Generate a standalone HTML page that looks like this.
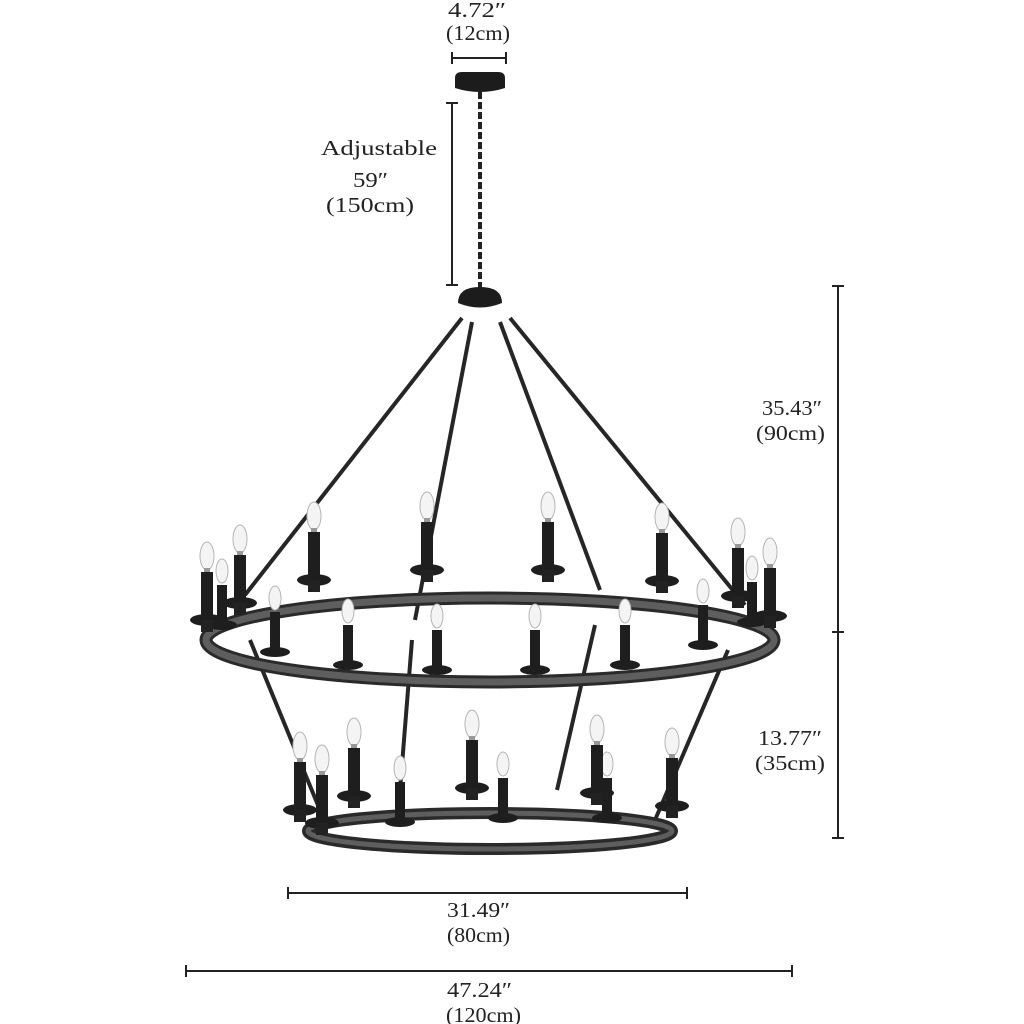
<!DOCTYPE html>
<html><head><meta charset="utf-8"><style>
html,body{margin:0;padding:0;background:#fff}
svg{display:block}
text{font-family:"Liberation Serif",serif;fill:#222;font-size:21px}
</style></head><body>
<svg width="1024" height="1024" viewBox="0 0 1024 1024">
<defs>
<g id="c">
<ellipse cx="0" cy="-16" rx="7" ry="14" fill="#f4f4f4" stroke="#b5b5b5" stroke-width="1"/>
<rect x="-3" y="-4" width="6" height="5" fill="#999"/>
<rect x="-6" y="0" width="12" height="46" fill="#1e1e1e"/>
<ellipse cx="0" cy="48" rx="17" ry="6" fill="#1e1e1e"/>
<rect x="-6" y="48" width="12" height="12" fill="#222"/>
</g>
<g id="s">
<ellipse cx="0" cy="-14" rx="6" ry="12" fill="#f4f4f4" stroke="#b5b5b5" stroke-width="1"/>
<rect x="-5" y="0" width="10" height="38" fill="#1e1e1e"/>
<ellipse cx="0" cy="40" rx="15" ry="5" fill="#1e1e1e"/>
</g>
</defs>

<text x="448" y="17" textLength="58" lengthAdjust="spacingAndGlyphs">4.72″</text>
<text x="446" y="40" textLength="64" lengthAdjust="spacingAndGlyphs">(12cm)</text>
<line x1="452" y1="58" x2="506" y2="58" stroke="#222" stroke-width="2"/>
<line x1="452" y1="52" x2="452" y2="64" stroke="#222" stroke-width="2"/>
<line x1="506" y1="52" x2="506" y2="64" stroke="#222" stroke-width="2"/>
<line x1="452" y1="103" x2="452" y2="285" stroke="#222" stroke-width="2"/>
<line x1="446" y1="103" x2="458" y2="103" stroke="#222" stroke-width="2"/>
<line x1="446" y1="285" x2="458" y2="285" stroke="#222" stroke-width="2"/>
<text x="321" y="155" font-size="23" textLength="116" lengthAdjust="spacingAndGlyphs">Adjustable</text>
<text x="353" y="187" font-size="23" textLength="35" lengthAdjust="spacingAndGlyphs">59″</text>
<text x="326" y="212" font-size="23" textLength="88" lengthAdjust="spacingAndGlyphs">(150cm)</text>
<path d="M455 78 Q455 72 462 72 L498 72 Q505 72 505 78 L505 88 Q480 96 455 88Z" fill="#1c1c1c"/>
<line x1="480" y1="92" x2="480" y2="290" stroke="#222" stroke-width="4" stroke-dasharray="7 3"/>
<path d="M458 303 Q458 287 480 287 Q502 287 502 303 Q480 312 458 303Z" fill="#1c1c1c"/>

<line x1="838" y1="286" x2="838" y2="838" stroke="#222" stroke-width="2"/>
<line x1="832" y1="286" x2="844" y2="286" stroke="#222" stroke-width="2"/>
<line x1="832" y1="632" x2="844" y2="632" stroke="#222" stroke-width="2"/>
<line x1="832" y1="838" x2="844" y2="838" stroke="#222" stroke-width="2"/>
<text x="762" y="415" textLength="60" lengthAdjust="spacingAndGlyphs">35.43″</text>
<text x="756" y="440" textLength="69" lengthAdjust="spacingAndGlyphs">(90cm)</text>
<text x="758" y="745" textLength="64" lengthAdjust="spacingAndGlyphs">13.77″</text>
<text x="755" y="770" textLength="70" lengthAdjust="spacingAndGlyphs">(35cm)</text>
<line x1="288" y1="893" x2="687" y2="893" stroke="#222" stroke-width="2"/>
<line x1="288" y1="887" x2="288" y2="899" stroke="#222" stroke-width="2"/>
<line x1="687" y1="887" x2="687" y2="899" stroke="#222" stroke-width="2"/>
<text x="447" y="917" textLength="63" lengthAdjust="spacingAndGlyphs">31.49″</text>
<text x="447" y="942" textLength="63" lengthAdjust="spacingAndGlyphs">(80cm)</text>
<line x1="186" y1="971" x2="792" y2="971" stroke="#222" stroke-width="2"/>
<line x1="186" y1="965" x2="186" y2="977" stroke="#222" stroke-width="2"/>
<line x1="792" y1="965" x2="792" y2="977" stroke="#222" stroke-width="2"/>
<text x="447" y="997" textLength="65" lengthAdjust="spacingAndGlyphs">47.24″</text>
<text x="446" y="1022" textLength="75" lengthAdjust="spacingAndGlyphs">(120cm)</text>

<g stroke="#262626" stroke-width="4" fill="none">
<line x1="462" y1="318" x2="245" y2="595"/>
<line x1="472" y1="322" x2="415" y2="620"/>
<line x1="500" y1="322" x2="600" y2="590"/>
<line x1="510" y1="318" x2="745" y2="605"/>
<line x1="250" y1="640" x2="322" y2="815"/>
<line x1="412" y1="640" x2="398" y2="815"/>
<line x1="595" y1="625" x2="557" y2="790"/>
<line x1="728" y1="650" x2="655" y2="820"/>
</g>

<ellipse cx="490" cy="640" rx="284" ry="42" fill="none" stroke="#2a2a2a" stroke-width="13"/>
<ellipse cx="490" cy="640" rx="284" ry="42" fill="none" stroke="#5e5e5e" stroke-width="7"/>
<ellipse cx="490" cy="831" rx="182" ry="18" fill="none" stroke="#2a2a2a" stroke-width="12"/>
<ellipse cx="490" cy="831" rx="182" ry="18" fill="none" stroke="#5e5e5e" stroke-width="5"/>

<use href="#s" x="275" y="612"/>
<use href="#s" x="348" y="625"/>
<use href="#s" x="437" y="630"/>
<use href="#s" x="535" y="630"/>
<use href="#s" x="625" y="625"/>
<use href="#s" x="703" y="605"/>
<use href="#s" x="222" y="585"/>
<use href="#s" x="752" y="582"/>
<use href="#c" x="207" y="572"/>
<use href="#c" x="240" y="555"/>
<use href="#c" x="314" y="532"/>
<use href="#c" x="427" y="522"/>
<use href="#c" x="548" y="522"/>
<use href="#c" x="662" y="533"/>
<use href="#c" x="738" y="548"/>
<use href="#c" x="770" y="568"/>
<use href="#s" x="400" y="782"/>
<use href="#s" x="503" y="778"/>
<use href="#s" x="607" y="778"/>
<use href="#c" x="300" y="762"/>
<use href="#c" x="322" y="775"/>
<use href="#c" x="354" y="748"/>
<use href="#c" x="472" y="740"/>
<use href="#c" x="597" y="745"/>
<use href="#c" x="672" y="758"/>
</svg>
</body></html>
